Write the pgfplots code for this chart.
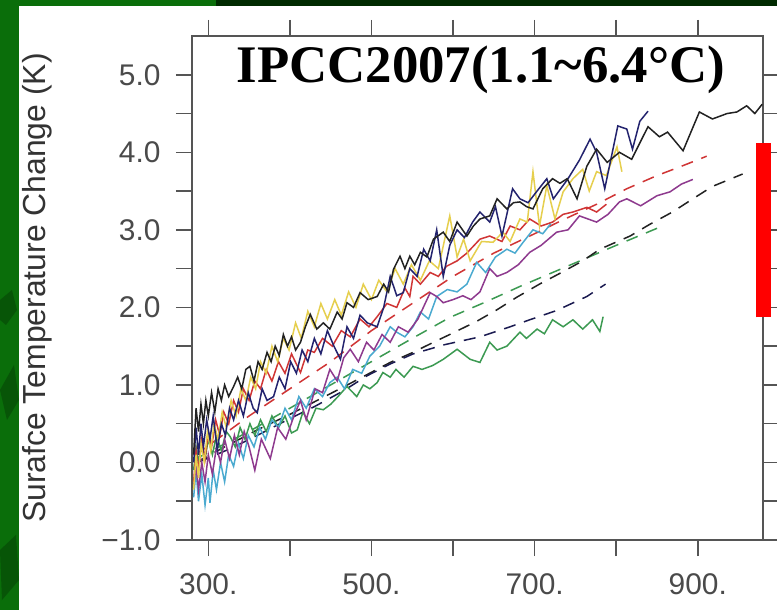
\documentclass[border=0pt]{standalone}
\usepackage{pgfplots}
\pgfplotsset{compat=1.18}
\usepackage{fontspec}
\setmainfont{Liberation Sans}
\newfontfamily\titlefont{Liberation Serif}
\definecolor{bggreen}{HTML}{0A6E0A}
\definecolor{bgdark}{HTML}{075507}
\definecolor{topdark}{HTML}{002A00}
\definecolor{framegray}{HTML}{555555}
\definecolor{labgray}{HTML}{4A4A4A}
\definecolor{cblack}{HTML}{222222}
\definecolor{cnavy}{HTML}{23236E}
\definecolor{cyellow}{HTML}{E6CF4E}
\definecolor{cred}{HTML}{D03535}
\definecolor{cpurple}{HTML}{8E3A8E}
\definecolor{ccyan}{HTML}{4AAAD0}
\definecolor{cgreen}{HTML}{3C9A52}
\definecolor{cdnavy}{HTML}{1A1A50}
\begin{document}
\begin{tikzpicture}
% background
\fill[bggreen] (-192bp,-70bp) rectangle (585bp,540bp);
\fill[bgdark] (-192bp,240bp) -- (-180bp,250bp) -- (-175bp,230bp) -- (-186bp,215bp) -- (-192bp,220bp) -- cycle;
\fill[bgdark] (-192bp,150bp) -- (-178bp,175bp) -- (-173bp,140bp) -- (-185bp,120bp) -- cycle;
\fill[bgdark] (-192bp,-10bp) -- (-176bp,5bp) -- (-173bp,-40bp) -- (-190bp,-60bp) -- cycle;
\fill[topdark] (24bp,534bp) rectangle (585bp,540bp);
\fill[white] (-173bp,-70bp) rectangle (585bp,534bp);
\begin{axis}[
  at={(0,0)}, anchor=south west,
  scale only axis, width=571bp, height=504bp,
  xmin=280, xmax=980, ymin=-1, ymax=5.5,
  clip=false,
  axis line style={framegray, line width=1.6bp},
  tick align=outside,
  major tick length=16bp,
  every tick/.style={framegray, line width=1.6bp},
  xtick={300,400,...,900},
  xticklabels={300.,,500.,,700.,,900.},
  ytick={-1,-0.5,...,5.0},
  yticklabels={−1.0,,0.0,,1.0,,2.0,,3.0,,4.0,,5.0},
  ticklabel style={font=\fontsize{30}{34}\selectfont, text=labgray},
  xticklabel style={yshift=-14bp},
  yticklabel style={xshift=-12bp},
  ylabel={Surafce Temperature Change (K)},
  ylabel style={at={(axis description cs:-0.2574,0.5)}, anchor=base, font=\fontsize{32}{36}\selectfont, text=black!80},
]
% dashed lines
\addplot[cred, line width=1.5bp, dash pattern=on 12bp off 9bp] coordinates {(285,0.1)(350,0.6)(400,0.95)(450,1.3)(500,1.7)(550,2.05)(600,2.4)(650,2.7)(700,2.95)(731,3.11)(776,3.33)(813,3.53)(850,3.7)(880,3.82)(911,3.95)};
\addplot[cgreen, line width=1.5bp, dash pattern=on 12bp off 9bp] coordinates {(285,0.05)(350,0.4)(400,0.7)(450,1.0)(500,1.3)(550,1.6)(596,1.87)(640,2.07)(682,2.27)(740,2.53)(800,2.8)(857,3.05)};
\addplot[cblack, line width=1.5bp, dash pattern=on 12bp off 9bp] coordinates {(285,0.0)(320,0.2)(360,0.42)(400,0.62)(465,0.97)(523,1.29)(551,1.42)(576,1.55)(596,1.65)(629,1.82)(654,1.97)(678,2.13)(706,2.30)(733,2.45)(759,2.6)(780,2.75)(817,2.92)(841,3.07)(869,3.23)(894,3.40)(918,3.56)(955,3.72)};
\addplot[cdnavy, line width=1.5bp, dash pattern=on 12bp off 9bp] coordinates {(287,0.0)(323,0.16)(351,0.3)(397,0.55)(430,0.72)(465,0.92)(495,1.12)(523,1.27)(551,1.4)(590,1.52)(633,1.62)(670,1.75)(694,1.84)(727,1.96)(764,2.14)(787,2.3)};
% solid lines
\addplot[cgreen, line width=1.5bp] coordinates {(282,-0.1)(285,0.2)(288,0.0)(292,0.25)(296,0.05)(300,0.3)(305,0.1)(310,0.35)(316,0.15)(322,0.4)(327,0.33)(333,0.2)(339,0.45)(345,0.3)(351,0.5)(357,0.35)(364,0.55)(371,0.4)(378,0.6)(386,0.45)(394,0.6)(402,0.38)(409,0.42)(416,0.65)(424,0.5)(432,0.7)(441,0.68)(450,0.75)(459,0.85)(470,0.98)(482,0.85)(490,1.0)(498,0.95)(507,1.03)(514,1.16)(523,1.1)(530,1.2)(540,1.1)(551,1.24)(562,1.2)(575,1.25)(588,1.33)(605,1.46)(621,1.33)(633,1.29)(645,1.55)(654,1.45)(666,1.50)(682,1.68)(690,1.6)(703,1.72)(712,1.66)(722,1.84)(735,1.75)(747,1.84)(759,1.72)(771,1.84)(780,1.69)(784,1.88)};
\addplot[ccyan, line width=1.5bp] coordinates {(282,-0.45)(285,-0.1)(288,-0.5)(292,-0.15)(296,-0.55)(300,-0.2)(302,-0.52)(306,-0.1)(310,-0.35)(315,0.0)(320,-0.25)(325,0.1)(331,-0.05)(337,0.25)(343,0.05)(349,0.35)(356,0.2)(363,0.45)(370,0.3)(378,0.55)(386,0.45)(394,0.7)(402,0.55)(411,0.85)(420,0.7)(430,0.95)(440,0.85)(449,1.03)(458,1.1)(467,0.95)(477,1.2)(488,1.15)(498,1.37)(510,1.5)(523,1.75)(531,1.68)(541,1.62)(551,1.75)(560,1.94)(570,1.85)(580,2.14)(593,2.23)(605,2.2)(617,2.3)(629,2.58)(640,2.45)(652,2.65)(666,2.75)(676,2.7)(686,2.84)(698,3.0)(710,2.95)(720,3.08)};
\addplot[cpurple, line width=1.5bp] coordinates {(282,-0.3)(285,-0.05)(288,-0.35)(292,0.0)(296,-0.25)(300,0.1)(305,-0.15)(310,0.2)(315,0.0)(320,0.3)(326,0.05)(332,0.35)(338,0.1)(344,0.4)(350,0.2)(357,-0.1)(365,0.3)(376,0.05)(385,0.45)(395,0.3)(405,0.6)(413,0.8)(420,0.55)(431,0.95)(440,0.9)(449,1.2)(458,1.05)(466,1.35)(474,1.46)(484,1.3)(494,1.55)(503,1.45)(513,1.65)(523,1.55)(533,1.75)(545,1.68)(557,1.85)(572,2.19)(580,2.14)(588,2.06)(600,2.1)(612,2.15)(622,2.1)(633,2.2)(645,2.5)(654,2.4)(666,2.45)(680,2.55)(694,2.71)(708,2.8)(727,2.97)(741,3.0)(755,3.18)(776,3.10)(790,3.2)(804,3.36)(813,3.40)(830,3.31)(850,3.44)(866,3.49)(880,3.59)(894,3.65)};
\addplot[cred, line width=1.5bp] coordinates {(282,-0.25)(285,0.15)(288,-0.1)(292,0.3)(296,0.05)(300,0.4)(304,0.2)(309,0.55)(314,0.35)(319,0.65)(325,0.5)(331,0.8)(337,0.65)(343,0.95)(350,0.8)(357,1.05)(364,0.95)(371,1.2)(378,1.05)(386,1.3)(394,1.15)(402,1.4)(413,1.16)(422,1.45)(430,1.42)(440,1.6)(452,1.5)(463,1.7)(474,1.62)(486,1.85)(497,1.75)(507,1.88)(519,2.05)(531,2.0)(541,2.25)(547,2.14)(551,2.40)(560,2.3)(572,2.45)(582,2.4)(592,2.53)(605,2.6)(617,2.7)(633,2.88)(645,2.92)(660,2.85)(670,3.05)(682,3.0)(694,3.14)(708,3.05)(722,3.10)(735,3.2)(747,3.23)(764,3.29)(776,3.23)(788,3.33)};
\addplot[cyellow, line width=1.5bp] coordinates {(282,-0.35)(285,0.1)(288,-0.2)(291,0.25)(295,0.0)(299,0.4)(303,0.15)(307,0.5)(312,0.3)(317,0.65)(322,0.45)(328,0.8)(334,0.6)(340,0.95)(346,0.8)(352,1.1)(358,0.95)(364,1.3)(371,1.15)(378,1.5)(385,1.3)(392,1.6)(399,1.45)(407,1.8)(414,1.6)(422,1.95)(430,1.75)(438,2.05)(446,1.85)(455,2.1)(463,1.9)(472,2.2)(481,2.0)(490,2.3)(500,2.1)(509,2.35)(519,2.2)(529,2.5)(539,2.3)(549,2.55)(560,2.35)(571,2.6)(582,2.5)(596,3.18)(605,2.65)(613,2.88)(621,2.6)(635,2.85)(649,2.84)(661,2.97)(670,2.85)(682,3.14)(691,3.10)(698,3.75)(706,3.05)(715,3.57)(725,3.14)(735,3.49)(747,3.66)(759,3.78)(767,3.5)(776,3.75)(788,3.7)(801,4.07)(807,3.75)};
\addplot[cnavy, line width=1.5bp] coordinates {(282,0.0)(285,0.45)(288,0.1)(291,0.5)(294,0.2)(298,0.55)(302,0.3)(306,0.6)(311,0.16)(316,0.5)(321,0.35)(326,0.7)(331,0.55)(337,0.8)(343,0.6)(349,0.9)(355,0.7)(360,0.64)(366,0.95)(372,0.8)(380,0.85)(387,1.1)(394,0.95)(401,1.3)(408,1.15)(415,1.45)(422,1.3)(430,1.6)(438,1.4)(446,1.7)(454,1.5)(462,1.33)(470,1.75)(478,1.6)(486,1.9)(495,1.8)(507,1.75)(515,2.0)(523,2.40)(531,2.15)(539,2.19)(547,2.5)(556,2.4)(564,2.75)(572,2.6)(580,3.0)(588,2.40)(596,2.8)(605,3.0)(614,2.9)(624,3.1)(633,3.23)(645,3.1)(652,3.3)(660,2.92)(673,3.53)(682,3.4)(692,3.35)(703,3.5)(715,3.66)(723,3.40)(741,3.66)(755,3.9)(768,4.17)(776,4.0)(786,3.53)(802,4.34)(813,4.30)(820,4.04)(829,4.40)(839,4.53)};
\addplot[cblack, line width=1.5bp] coordinates {(282,0.1)(285,0.7)(288,0.4)(291,0.75)(294,0.5)(297,0.8)(300,0.6)(304,0.9)(308,0.65)(312,0.95)(316,0.8)(320,1.0)(325,0.85)(331,0.98)(336,1.1)(341,0.95)(346,1.2)(351,1.24)(356,1.05)(361,1.3)(366,1.2)(372,1.42)(377,1.3)(382,1.5)(387,1.38)(392,1.65)(397,1.5)(402,1.62)(407,1.45)(413,1.55)(419,1.75)(425,1.91)(433,1.72)(441,1.8)(449,1.72)(458,1.94)(464,1.85)(470,2.06)(478,2.0)(486,2.19)(496,2.1)(507,2.14)(515,2.3)(521,2.2)(527,2.49)(535,2.66)(541,2.5)(547,2.66)(553,2.55)(560,2.71)(568,2.65)(576,2.88)(588,2.97)(596,2.85)(605,3.10)(617,2.92)(625,3.05)(633,3.14)(645,3.18)(654,3.40)(666,3.27)(674,3.35)(682,3.36)(690,3.3)(698,3.27)(710,3.53)(722,3.66)(731,3.6)(740,3.66)(752,3.40)(764,3.82)(776,4.04)(789,3.87)(804,4.0)(819,3.91)(839,4.33)(853,4.2)(863,4.26)(882,4.02)(902,4.52)(918,4.43)(936,4.5)(948,4.52)(960,4.6)(970,4.5)(979,4.62)};
% red range bar
\addplot[red, line width=15bp, line cap=butt] coordinates {(980,1.87)(980,4.12)};
% title
\node[anchor=base, font=\titlefont\bfseries\fontsize{53}{60}\selectfont, text=black] at (rel axis cs:0.506,0.907) {IPCC2007(1.1\textasciitilde 6.4°C)};
\end{axis}
\pgfresetboundingbox
\path[use as bounding box] (-192bp,-70bp) rectangle (585bp,540bp);
\end{tikzpicture}
\end{document}
